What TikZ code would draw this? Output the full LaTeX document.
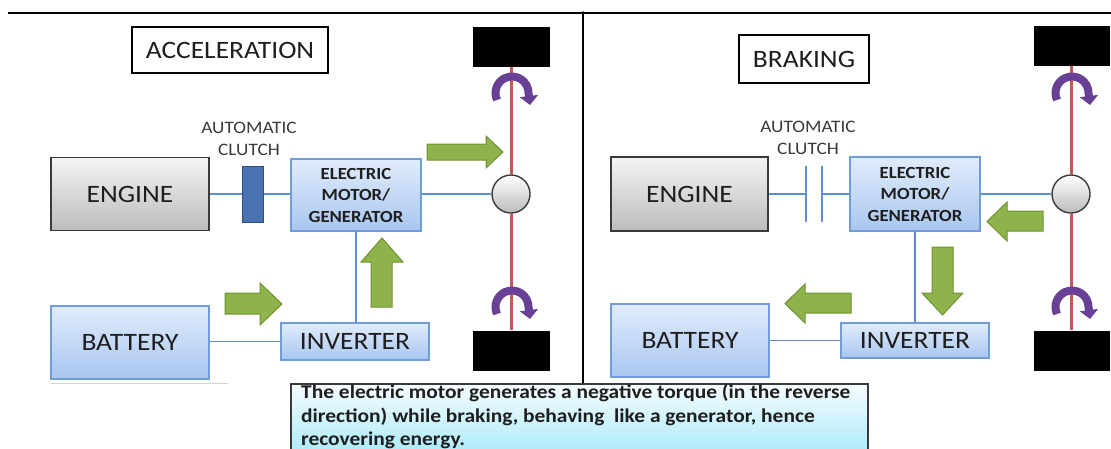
\documentclass[tikz,border=0pt]{standalone}
\usepackage{fontspec}
\setmainfont{Carlito}[FakeStretch=1.1]
\usetikzlibrary{arrows.meta}
\definecolor{bTop}{RGB}{224,236,252}
\definecolor{bBot}{RGB}{168,198,240}
\definecolor{bBorder}{RGB}{112,156,216}
\definecolor{linkBlue}{RGB}{96,142,205}
\definecolor{gTop}{RGB}{244,244,244}
\definecolor{gBot}{RGB}{188,188,188}
\definecolor{gBorder}{RGB}{58,58,58}
\definecolor{flowFill}{RGB}{141,179,74}
\definecolor{flowEdge}{RGB}{112,146,52}
\definecolor{spinCol}{RGB}{104,64,150}
\definecolor{axleCol}{RGB}{200,86,86}
\definecolor{clutchFill}{RGB}{74,114,176}
\definecolor{clutchEdge}{RGB}{46,76,126}
\definecolor{noteTop}{RGB}{246,252,255}
\definecolor{noteBot}{RGB}{150,230,250}
\definecolor{txt}{RGB}{30,30,30}
\begin{document}
\begin{tikzpicture}[x=1pt,y=-1pt,
  bigfont/.style={font=\fontsize{25}{30}\selectfont},
  motfont/.style={font=\bfseries\fontsize{17}{21.5}\selectfont},
  smallfont/.style={font=\fontsize{17.5}{22}\selectfont},
  bluebox/.style={draw=bBorder, line width=1.3pt, top color=bTop, bottom color=bBot, inner sep=0pt, text=txt},
  graybox/.style={draw=gBorder, line width=1.7pt, top color=gTop, bottom color=gBot, inner sep=0pt, text=txt},
  titlebox/.style={draw=black, line width=1.8pt, fill=white, inner sep=0pt, text=txt},
  wheel/.style={fill=black, inner sep=0pt, minimum width=77pt, minimum height=40pt},
  hub/.style={circle, draw=gBorder, line width=1.4pt, top color=white, bottom color=gBot, minimum size=38pt, inner sep=0pt},
  clutchbox/.style={draw=clutchEdge, line width=1pt, fill=clutchFill, inner sep=0pt, minimum width=21pt, minimum height=56pt},
  plate/.style={inner sep=0pt, minimum width=0pt, minimum height=56pt},
  link/.style={draw=linkBlue, line width=1.2pt},
  axle/.style={draw=axleCol, line width=3pt},
  flow/.style={fill=flowFill, draw=flowEdge, line width=1pt, line join=miter},
  spin/.style={draw=spinCol, line width=8pt, -{Triangle[length=9pt,width=18pt]}},
  frame/.style={draw=black, line width=2pt}
]
\useasboundingbox (0,0) rectangle (1111,448);

% frame
\coordinate (tl) at (8,13);
\coordinate (tr) at (1111,13);
\coordinate (dtop) at (583,13);
\coordinate (dbot) at (583,383);
\draw[frame] (tl) -- (tr);
\draw[frame] (dtop) -- (dbot);
\fill (dtop) circle (1.8pt);

% ================= LEFT: ACCELERATION =================
\node[titlebox, minimum width=196pt, minimum height=46pt, bigfont] (acc) at (230,50) {ACCELERATION};
\node[graybox, minimum width=158pt, minimum height=73pt, bigfont] (engL) at (130,194) {ENGINE};
\node[clutchbox] (clL) at (252.5,194) {};
\node[smallfont, align=center, text=gBorder] (acL) at (249,139) {AUTOMATIC\\CLUTCH};
\node[bluebox, minimum width=130pt, minimum height=72pt, motfont, align=center] (motL) at (356,195) {ELECTRIC\\MOTOR/\\GENERATOR};
\node[hub] (hubL) at (511,194) {};
\node[bluebox, minimum width=158pt, minimum height=73pt, bigfont] (batL) at (130,342.5) {BATTERY};
\node[bluebox, minimum width=148pt, minimum height=37pt, bigfont] (invL) at (355,341.5) {INVERTER};
\node[wheel] (wLt) at (511,46.5) {};
\node[wheel] (wLb) at (511,350.5) {};
\coordinate (shL1) at (51,383);
\coordinate (shL2) at (228,383);
\draw[gray!35, line width=1pt] (shL1) -- (shL2);

\draw[link] (clL.west -| engL.east) -- (clL.west);
\draw[link] (clL.east) -- (clL.east -| motL.west);
\draw[link] (hubL.west -| motL.east) -- (hubL.west);
\draw[link] (motL.south) -- (motL.south |- invL.north);
\draw[link] (invL.west -| batL.east) -- (invL.west);
\draw[axle] (wLt.south) -- (hubL.north);
\draw[axle] (hubL.south) -- (wLb.north);

\coordinate (spLt) at (512,93);
\coordinate (spLb) at (512,307);
\draw[spin] (spLt) ++(155:16.5) arc[start angle=155, end angle=360, radius=16.5] -- ++(1.5,12);
\draw[spin] (spLb) ++(155:16.5) arc[start angle=155, end angle=360, radius=16.5] -- ++(1.5,12);

% green flow arrows (left)
\draw[flow] (427,144) -- (486,144) -- (486,136) -- (503,152) -- (486,168) -- (486,160) -- (427,160) -- cycle;
\draw[flow] (371,307) -- (371,262) -- (361,262) -- (382,238) -- (403,262) -- (392,262) -- (392,307) -- cycle;
\draw[flow] (225,293) -- (260,293) -- (260,283) -- (282,304) -- (260,325) -- (260,314) -- (225,314) -- cycle;

% ================= RIGHT: BRAKING =================
\node[titlebox, minimum width=130pt, minimum height=48pt, bigfont] (brk) at (804,59) {BRAKING};
\node[graybox, minimum width=157pt, minimum height=74pt, bigfont] (engR) at (689.5,194) {ENGINE};
\node[plate] (plA) at (806,194) {};
\node[plate] (plB) at (822,194) {};
\node[smallfont, align=center, text=gBorder] (acR) at (808,138) {AUTOMATIC\\CLUTCH};
\node[bluebox, minimum width=130pt, minimum height=74pt, motfont, align=center] (motR) at (915,194) {ELECTRIC\\MOTOR/\\GENERATOR};
\node[hub] (hubR) at (1071,194) {};
\node[bluebox, minimum width=158pt, minimum height=73pt, bigfont] (batR) at (690,340.5) {BATTERY};
\node[bluebox, minimum width=148pt, minimum height=35pt, bigfont] (invR) at (915,340.5) {INVERTER};
\node[wheel, minimum width=76pt] (wRt) at (1072,46) {};
\node[wheel, minimum width=76pt] (wRb) at (1072,350.5) {};

\draw[link] (engR.east) -- (plA.center);
\draw[link] (plA.north) -- (plA.south);
\draw[link] (plB.north) -- (plB.south);
\draw[link] (plB.center) -- (motR.west);
\draw[link] (motR.east) -- (hubR.west);
\draw[link] (motR.south) -- (invR.north);
\draw[link] (invR.west -| batR.east) -- (invR.west);
\draw[axle] (wRt.south -| hubR.north) -- (hubR.north);
\draw[axle] (hubR.south) -- (hubR.south |- wRb.north);

\coordinate (spRt) at (1072,93);
\coordinate (spRb) at (1072,307);
\draw[spin] (spRt) ++(155:16.5) arc[start angle=155, end angle=360, radius=16.5] -- ++(1.5,12);
\draw[spin] (spRb) ++(155:16.5) arc[start angle=155, end angle=360, radius=16.5] -- ++(1.5,12);

% green flow arrows (right)
\draw[flow] (1043,211) -- (1007,211) -- (1007,202) -- (987,221.5) -- (1007,241) -- (1007,231) -- (1043,231) -- cycle;
\draw[flow] (932,247) -- (953,247) -- (953,293) -- (963,293) -- (942.5,315) -- (922,293) -- (932,293) -- cycle;
\draw[flow] (851,293) -- (805,293) -- (805,284) -- (785,303.5) -- (805,323) -- (805,313) -- (851,313) -- cycle;

% ================= NOTE =================
\node[draw=gBorder, line width=1.5pt, top color=noteTop, bottom color=noteBot, anchor=north west, minimum width=577pt, minimum height=90pt, inner sep=0pt] (note) at (290,383) {};
\node[anchor=north west, inner sep=0pt, align=left, text=txt, font=\bfseries\fontsize{19.5}{23.5}\selectfont] (noteText) at (301,384) {The electric motor generates a negative torque (in the reverse\\direction) while braking, behaving\ \ like a generator, hence\\recovering energy.};
\end{tikzpicture}
\end{document}
